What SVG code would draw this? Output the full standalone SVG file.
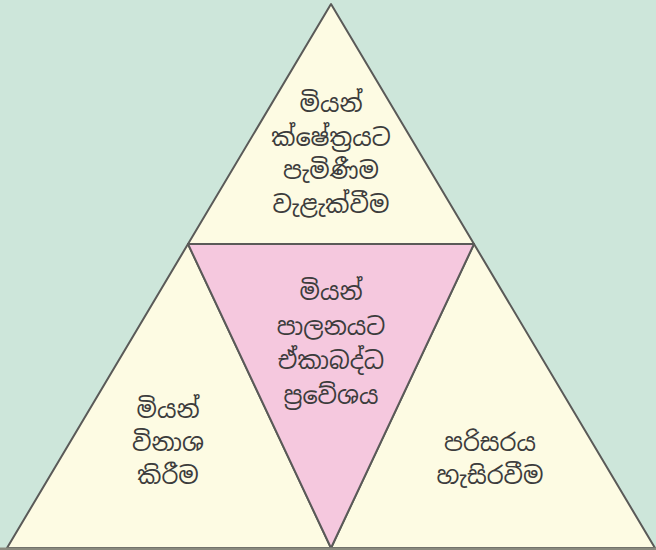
<svg xmlns="http://www.w3.org/2000/svg" width="656" height="550" viewBox="0 0 656 550">
<style>
.tri{stroke:#5a5a58;stroke-width:2;stroke-linejoin:round}
.cream{fill:#fdfbe3}
.pink{fill:#f5c8de}
.lbl{font-family:"Noto Sans Sinhala","Noto Serif Sinhala","Iskoola Pota","Noto Sans",sans-serif;font-size:24px;fill:#3c3c3c;text-anchor:middle;dominant-baseline:central}
</style>
<rect x="0" y="0" width="656" height="550" fill="#cde6da"/>
<g id="top">
<polygon class="tri cream" points="331,4 188,244 474,244"/>
<text class="lbl" x="331" y="103">මියන්</text>
<text class="lbl" x="331" y="137">ක්ෂේත්‍රයට</text>
<text class="lbl" x="331" y="170">පැමිණීම</text>
<text class="lbl" x="331" y="204">වැළැක්වීම</text>
</g>
<g id="left">
<polygon class="tri cream" points="188,244 331,548 7,548"/>
<text class="lbl" x="168" y="409">මියන්</text>
<text class="lbl" x="168" y="442">විනාශ</text>
<text class="lbl" x="168" y="475">කිරීම</text>
</g>
<g id="right">
<polygon class="tri cream" points="474,244 655,548 331,548"/>
<text class="lbl" x="490" y="442">පරිසරය</text>
<text class="lbl" x="490" y="475">හැසිරවීම</text>
</g>
<g id="center">
<polygon class="tri pink" points="188,244 474,244 331,548"/>
<text class="lbl" x="331" y="291">මියන්</text>
<text class="lbl" x="331" y="326">පාලනයට</text>
<text class="lbl" x="331" y="360">ඒකාබද්ධ</text>
<text class="lbl" x="331" y="395">ප්‍රවේශය</text>
</g>
<g id="connectors">
<line x1="0" y1="549" x2="656" y2="549" stroke="#8a8a7e" stroke-width="3"/>
</g>
</svg>
